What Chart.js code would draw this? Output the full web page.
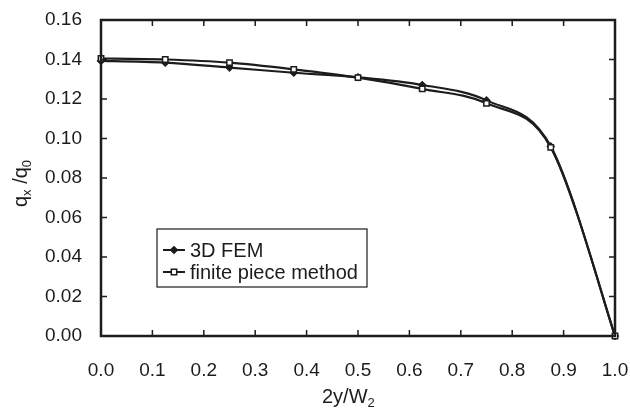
<!DOCTYPE html>
<html>
<head>
<meta charset="utf-8">
<script src="https://cdn.jsdelivr.net/npm/chart.js@4.4.1/dist/chart.umd.min.js"></script>
<style>
  body { margin: 0; background: #fff; }
  canvas { display: block; }
</style>
</head>
<body>
<canvas id="chart" width="630" height="413"></canvas>
<script>
// data
const positions = [0, 0.125, 0.25, 0.375, 0.5, 0.625, 0.75, 0.875, 1.0];
const femValues = [0.1393, 0.1384, 0.1359, 0.1333, 0.1310, 0.1271, 0.1193, 0.0960, 0.0];
const fpmValues = [0.1405, 0.1400, 0.1384, 0.1350, 0.1308, 0.1251, 0.1178, 0.0955, 0.0];
const seriesNames = ['3D FEM', 'finite piece method'];
const xTicks = [0, 0.1, 0.2, 0.3, 0.4, 0.5, 0.6, 0.7, 0.8, 0.9, 1.0];
const yTicks = [0, 0.02, 0.04, 0.06, 0.08, 0.10, 0.12, 0.14, 0.16];

const ink = '#1c1c1c';
const fontFamily = '"Liberation Sans", Arial, sans-serif';

const toPoints = (vals) => positions.map((x, i) => ({ x: x, y: vals[i] }));

// spreadsheet-style smoothing: control points at 1/6 of the neighbour span
const smoothPlugin = {
    id: 'smooth',
    beforeDatasetDraw(chart, args) {
        const meta = args.meta;
        meta.dataset.updateControlPoints(chart.chartArea, meta.iScale.axis);
        const pts = meta.data;
        pts.forEach((p, i) => {
            const prev = pts[Math.max(i - 1, 0)];
            const next = pts[Math.min(i + 1, pts.length - 1)];
            const dx = (next.x - prev.x) / 6;
            const dy = (next.y - prev.y) / 6;
            p.cp1x = p.x - dx; p.cp1y = p.y - dy;
            p.cp2x = p.x + dx; p.cp2y = p.y + dy;
        });
    }
};

// frame, inward ticks, axis titles with subscripts and the boxed legend
const framePlugin = {
    id: 'frame',
    afterDraw(chart) {
        const ctx = chart.ctx;
        const a = chart.chartArea;
        const xs = chart.scales.x;
        const ys = chart.scales.y;
        const tick = 6;

        ctx.save();
        ctx.strokeStyle = ink;
        ctx.lineWidth = 1.5;
        ctx.beginPath();
        xTicks.forEach(v => {
            const px = xs.getPixelForValue(v);
            ctx.moveTo(px, a.bottom); ctx.lineTo(px, a.bottom - tick);
            ctx.moveTo(px, a.top); ctx.lineTo(px, a.top + tick);
        });
        yTicks.forEach(v => {
            const py = ys.getPixelForValue(v);
            ctx.moveTo(a.left, py); ctx.lineTo(a.left + tick, py);
            ctx.moveTo(a.right, py); ctx.lineTo(a.right - tick, py);
        });
        ctx.stroke();

        ctx.lineWidth = 2.5;
        ctx.strokeRect(a.left, a.top, a.right - a.left, a.bottom - a.top);

        // x title: 2y/W2
        ctx.fillStyle = ink;
        ctx.textBaseline = 'alphabetic';
        ctx.textAlign = 'left';
        ctx.font = '20px ' + fontFamily;
        let x0 = 322;
        ctx.fillText('2y/W', x0, 403);
        x0 += ctx.measureText('2y/W').width;
        ctx.font = '13px ' + fontFamily;
        ctx.fillText('2', x0, 407);

        // y title: qx /q0, rotated
        ctx.save();
        ctx.translate(27, 207);
        ctx.rotate(-Math.PI / 2);
        let t = 0;
        ctx.font = '20px ' + fontFamily;
        ctx.fillText('q', t, 0);
        t += ctx.measureText('q').width;
        ctx.font = '13px ' + fontFamily;
        ctx.fillText('x', t, 4);
        t += ctx.measureText('x').width;
        ctx.font = '20px ' + fontFamily;
        ctx.fillText(' /q', t, 0);
        t += ctx.measureText(' /q').width;
        ctx.font = '13px ' + fontFamily;
        ctx.fillText('0', t, 4);
        ctx.restore();

        // legend box
        ctx.lineWidth = 1.2;
        ctx.strokeRect(157, 229, 210, 58);
        const rows = [250, 272];
        chart.data.datasets.forEach((ds, i) => {
            const y = rows[i];
            ctx.lineWidth = 2;
            ctx.strokeStyle = ink;
            ctx.beginPath();
            ctx.moveTo(163, y); ctx.lineTo(185, y);
            ctx.stroke();
            ctx.lineWidth = ds.pointBorderWidth;
            ctx.fillStyle = ds.pointBackgroundColor;
            Chart.helpers.drawPoint(ctx, {
                pointStyle: ds.pointStyle,
                radius: ds.pointRadius,
                rotation: 0,
                borderWidth: ds.pointBorderWidth
            }, 174, y);
            ctx.fillStyle = ink;
            ctx.font = '20px ' + fontFamily;
            ctx.textBaseline = 'middle';
            ctx.fillText(ds.label, 190, y + 1);
        });
        ctx.restore();
    }
};

new Chart(document.getElementById('chart'), {
    type: 'line',
    data: {
        datasets: [
            {
                label: seriesNames[0],
                data: toPoints(femValues),
                borderColor: ink,
                borderWidth: 2.2,
                tension: 0.3,
                pointStyle: 'rectRot',
                pointRadius: 3.5,
                pointBorderWidth: 1.2,
                pointBackgroundColor: ink,
                pointBorderColor: ink,
                clip: false,
                order: 1
            },
            {
                label: seriesNames[1],
                data: toPoints(fpmValues),
                borderColor: ink,
                borderWidth: 2.2,
                tension: 0.3,
                pointStyle: 'rect',
                pointRadius: 3.8,
                pointBorderWidth: 1.5,
                pointBackgroundColor: '#fff',
                pointBorderColor: ink,
                clip: false,
                order: 0
            }
        ]
    },
    options: {
        responsive: false,
        animation: false,
        devicePixelRatio: 1,
        layout: { padding: { top: 20, right: 15, left: 0, bottom: 0 } },
        plugins: {
            legend: { display: false },
            tooltip: { enabled: false }
        },
        scales: {
            x: {
                type: 'linear',
                min: 0,
                max: 1,
                afterBuildTicks: (scale) => { scale.ticks = xTicks.map(v => ({ value: v })); },
                afterFit: (scale) => {
                    scale.height = 77;
                    scale.paddingLeft = 0;
                    scale.paddingRight = 0;
                },
                grid: { display: false },
                border: { display: false },
                ticks: {
                    color: ink,
                    padding: 15,
                    maxRotation: 0,
                    font: { family: fontFamily, size: 19 },
                    callback: (v) => Number(v).toFixed(1)
                }
            },
            y: {
                min: 0,
                max: 0.16,
                afterBuildTicks: (scale) => { scale.ticks = yTicks.map(v => ({ value: v })); },
                afterFit: (scale) => {
                    scale.width = 101;
                    scale.paddingTop = 0;
                    scale.paddingBottom = 0;
                },
                grid: { display: false },
                border: { display: false },
                ticks: {
                    color: ink,
                    padding: 11,
                    font: { family: fontFamily, size: 19 },
                    callback: (v) => Number(v).toFixed(2)
                }
            }
        }
    },
    plugins: [smoothPlugin, framePlugin]
});
</script>
</body>
</html>
